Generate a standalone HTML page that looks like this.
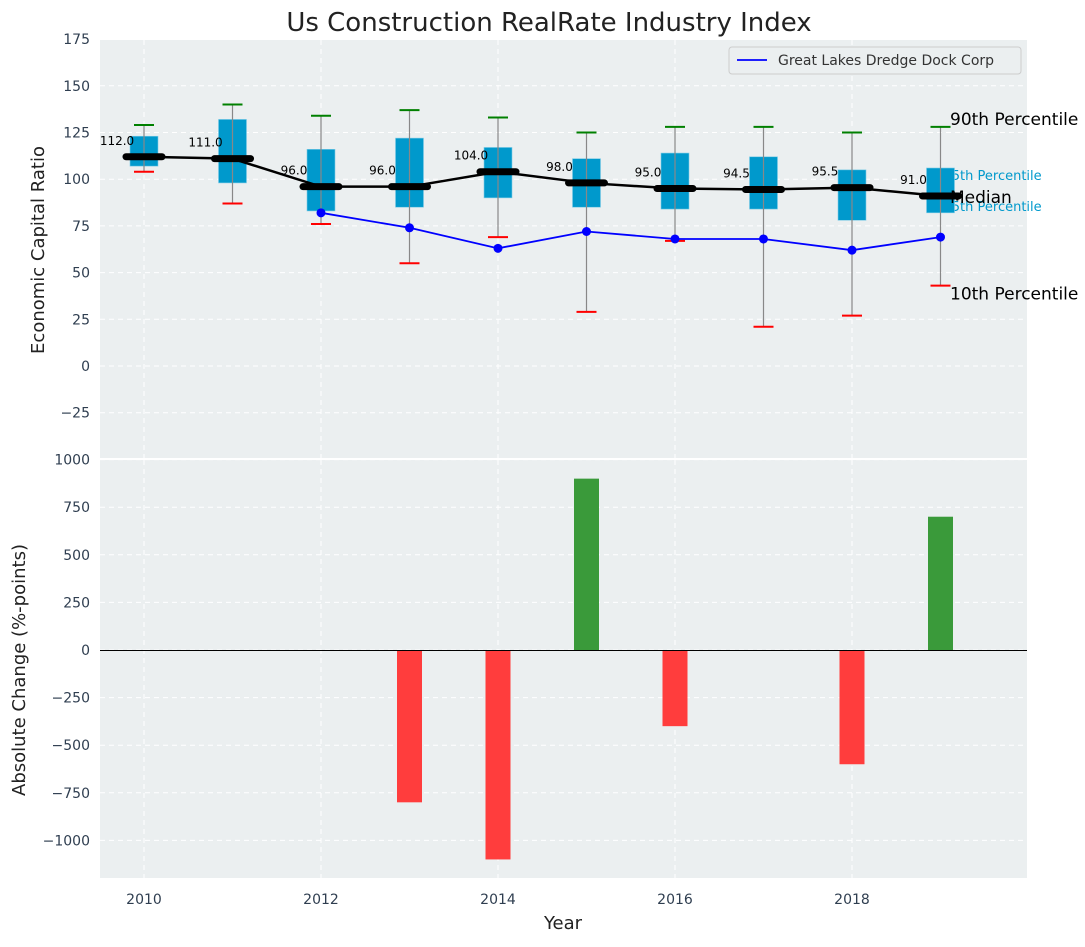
<!DOCTYPE html>
<html><head><meta charset="utf-8"><style>
body{margin:0;background:#fff;font-family:"Liberation Sans","DejaVu Sans",sans-serif;}
svg text{font-family:"DejaVu Sans","Liberation Sans",sans-serif;}
</style></head><body>
<svg id="chart" width="1085" height="942" xmlns="http://www.w3.org/2000/svg">
<rect x="0" y="0" width="1085" height="942" fill="#fff"/>
<g id="top"></g>
<g id="bot"></g>
</svg>
<script>
const years=[2010,2011,2012,2013,2014,2015,2016,2017,2018,2019];
const p10=[104,87,76,55,69,29,67,21,27,43];
const p25=[107,98,83,85,90,85,84,84,78,82];
const medians=[112,111,96,96,104,98,95,94.5,95.5,91];
const p75=[123,132,116,122,117,111,114,112,105,106];
const p90=[129,140,134,137,133,125,128,128,125,128];
const companyYears=[2012,2013,2014,2015,2016,2017,2018,2019];
const companyValues=[82,74,63,72,68,68,62,69];
const changes=[0,0,0,-800,-1100,900,-400,0,-600,700];
const topTicks=[-25,0,25,50,75,100,125,150,175];
const botTicks=[-1000,-750,-500,-250,0,250,500,750,1000];
const xTicks=[2010,2012,2014,2016,2018];

const NS="http://www.w3.org/2000/svg";
const L=100,R=1027;
const xs=v=>144+(v-2010)*88.5;
const yt=v=>366-v*46.7/25;
const yb=v=>650-v*47.6/250;
function mk(parent,tag,attrs,text){const e=document.createElementNS(NS,tag);for(const k in attrs)e.setAttribute(k,attrs[k]);if(text!==undefined)e.textContent=text;parent.appendChild(e);return e;}
const topG=document.getElementById('top'),bot=document.getElementById('bot');

let e=mk(topG,'rect',{x:L,y:40,width:R-L,height:418,fill:'#ebeff0'});


e=mk(bot,'rect',{x:L,y:460,width:R-L,height:418,fill:'#ebeff0'});



topTicks.forEach(t=>{const y=yt(t);
 mk(topG,'line',{x1:L,x2:R,y1:y,y2:y,stroke:'#fff','stroke-dasharray':'5,4','stroke-width':1});
 e=mk(topG,'text',{x:90,y:y+5,'text-anchor':'end','font-size':14,fill:'#2f3e50'},t<0?'\u2212'+(-t):t);
 
 
});
botTicks.forEach(t=>{const y=yb(t);
 mk(bot,'line',{x1:L,x2:R,y1:y,y2:y,stroke:'#fff','stroke-dasharray':'5,4','stroke-width':1});
 e=mk(bot,'text',{x:90,y:y+5,'text-anchor':'end','font-size':14,fill:'#2f3e50'},t<0?'\u2212'+(-t):t);
 
 
});
xTicks.forEach(t=>{const x=xs(t);
 mk(topG,'line',{x1:x,x2:x,y1:40,y2:458,stroke:'#fff','stroke-dasharray':'5,4'});
 mk(bot,'line',{x1:x,x2:x,y1:460,y2:878,stroke:'#fff','stroke-dasharray':'5,4'});
 e=mk(bot,'text',{x:x,y:904,'text-anchor':'middle','font-size':14,fill:'#2f3e50'},t);
 
 
});

const li=years.length-1,lx=xs(years[li])+9;
[['75th Percentile',yt(p75[li])+12],['25th Percentile',yt(p25[li])-2]].forEach(a=>{
 e=mk(topG,'text',{x:lx-6,y:a[1],'font-size':13,fill:'#0099cc'},a[0]);
 
 
});

years.forEach((yr,i)=>{const x=xs(yr);
 e=mk(topG,'rect',{x:x-14,y:yt(p75[i]),width:28,height:yt(p25[i])-yt(p75[i]),fill:'#0099cc',stroke:'#7fcce6','stroke-width':0.6});
 
 
 mk(topG,'line',{x1:x,x2:x,y1:yt(p90[i]),y2:yt(p10[i]),stroke:'#888','stroke-width':1.2});
 e=mk(topG,'line',{x1:x-10,x2:x+10,y1:yt(p90[i]),y2:yt(p90[i]),stroke:'green','stroke-width':2});
 
 
 e=mk(topG,'line',{x1:x-10,x2:x+10,y1:yt(p10[i]),y2:yt(p10[i]),stroke:'red','stroke-width':2});
 
 
});
e=mk(topG,'polyline',{points:years.map((y,i)=>xs(y)+','+yt(medians[i])).join(' '),fill:'none',stroke:'#000','stroke-width':2.5});


years.forEach((yr,i)=>{const x=xs(yr),y=yt(medians[i]);
 e=mk(topG,'line',{x1:x-18,x2:x+18,y1:y,y2:y,stroke:'#000','stroke-width':7,'stroke-linecap':'round'});
 
 
 e=mk(topG,'text',{x:x-27,y:y-12,'text-anchor':'middle','font-size':12,fill:'#000'},medians[i].toFixed(1));
 
 
});
e=mk(topG,'polyline',{points:companyYears.map((y,i)=>xs(y)+','+yt(companyValues[i])).join(' '),fill:'none',stroke:'blue','stroke-width':1.8});


companyYears.forEach((yr,i)=>{
 e=mk(topG,'circle',{cx:xs(yr),cy:yt(companyValues[i]),r:4.5,fill:'blue'});
 
 
});
[['90th Percentile',yt(p90[li])-2],['Median',yt(medians[li])+7],['10th Percentile',yt(p10[li])+14]].forEach(a=>{
 e=mk(topG,'text',{x:950,y:a[1],'font-size':17,fill:'#000'},a[0]);
 
 
});

e=mk(topG,'g',{});


mk(e,'rect',{x:729,y:47,width:292,height:27,rx:3,fill:'#ebeff0',stroke:'#ccc'});
mk(e,'line',{x1:737,x2:767,y1:60,y2:60,stroke:'blue','stroke-width':1.8});
mk(e,'text',{x:778,y:65,'font-size':14,fill:'#333'},'Great Lakes Dredge Dock Corp');

years.forEach((yr,i)=>{if(!changes[i])return;const v=changes[i];
 e=mk(bot,'rect',{x:xs(yr)-12.5,y:Math.min(yb(v),yb(0)),width:25,height:Math.abs(yb(v)-yb(0)),fill:v>0?'#3a9a3a':'#ff3d3d'});
 
 
});
mk(bot,'line',{x1:L,x2:R,y1:yb(0)+0.5,y2:yb(0)+0.5,stroke:'#000','stroke-width':1});

e=mk(topG,'text',{x:549,y:31,'text-anchor':'middle','font-size':26,fill:'#222'},'Us Construction RealRate Industry Index');


e=mk(topG,'text',{x:0,y:0,transform:'translate(44,250) rotate(-90)','text-anchor':'middle','font-size':18,fill:'#222'},'Economic Capital Ratio');


e=mk(bot,'text',{x:0,y:0,transform:'translate(25,670) rotate(-90)','text-anchor':'middle','font-size':18,fill:'#222'},'Absolute Change (%-points)');


e=mk(bot,'text',{x:563,y:929,'text-anchor':'middle','font-size':18,fill:'#222'},'Year');


</script>
</body></html>
